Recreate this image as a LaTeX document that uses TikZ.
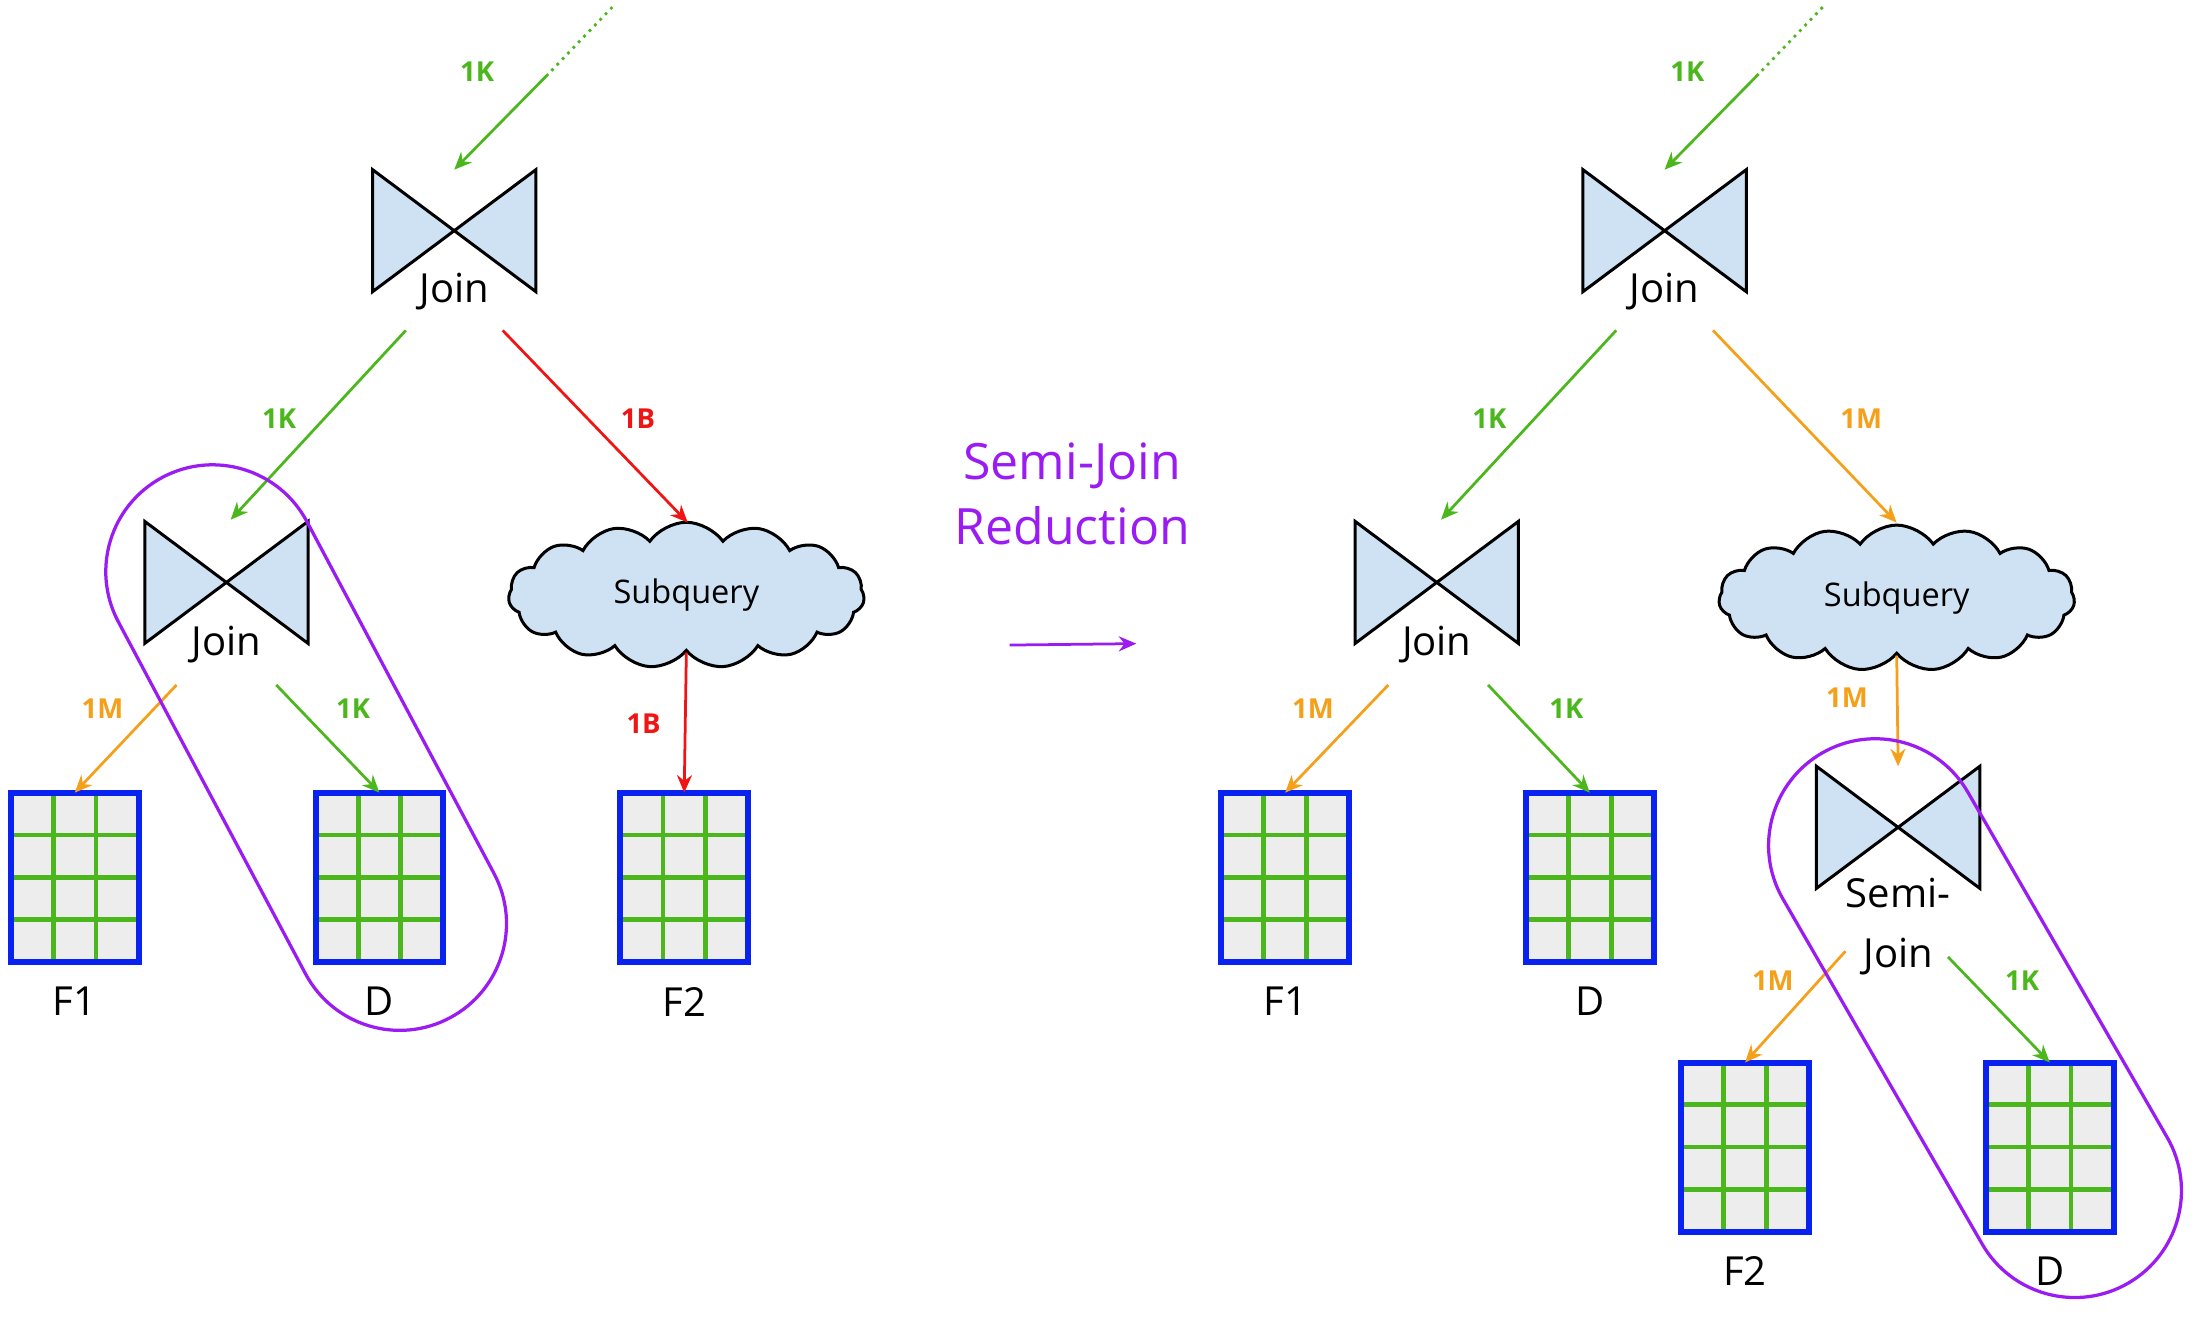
\documentclass[tikz,border=0pt]{standalone}
\usepackage{fontspec}
\setmainfont{Open Sans}
\usetikzlibrary{arrows.meta,shapes.symbols,calc}
\definecolor{gr}{HTML}{4CB71D}
\definecolor{og}{HTML}{F5A01A}
\definecolor{rd}{HTML}{F01515}
\definecolor{pu}{HTML}{9B1CF2}
\definecolor{lb}{HTML}{CFE2F3}
\definecolor{tb}{HTML}{0A22F0}
\newcommand\btnode[2]{\node[bt] (#1) at (#2) {};
 \filldraw[fill=lb,draw=black,line width=1.2pt,line join=miter] (#1.north west)--(#1.center)--(#1.south west)--cycle (#1.north east)--(#1.center)--(#1.south east)--cycle;}
\begin{document}
\begin{tikzpicture}[x=0.02cm,y=-0.02cm,
 bt/.style={minimum width=2.28cm,minimum height=1.7cm,inner sep=0},
 ar/.style={line width=1.1pt,-{Stealth[length=7pt,width=6pt]}},
 lab/.style={font=\fontsize{11}{13}\selectfont\bfseries},
 txt/.style={font=\fontsize{16}{19}\selectfont},
 cl/.style={cloud,cloud puffs=15,cloud puff arc=110,aspect=2.5,fill=lb,draw=black,line width=1.2pt,minimum width=5.0cm,minimum height=2.05cm,inner sep=0},
 capsule/.style={draw=pu,line width=1.3pt,rounded corners=1.5cm,minimum width=3.0cm,minimum height=8.6cm}
]
\useasboundingbox (0,0) rectangle (1545,927);
\newcommand\tab[3]{%
 \node[minimum width=1.78cm,minimum height=2.36cm,inner sep=0,fill=black!7] (#1) at (#2) {};
 \draw[gr,line width=1.9pt] ($(#1.north west)!0.3333!(#1.north east)$) -- ($(#1.south west)!0.3333!(#1.south east)$)
  ($(#1.north west)!0.6667!(#1.north east)$) -- ($(#1.south west)!0.6667!(#1.south east)$)
  ($(#1.north west)!0.25!(#1.south west)$) -- ($(#1.north east)!0.25!(#1.south east)$)
  ($(#1.north west)!0.5!(#1.south west)$) -- ($(#1.north east)!0.5!(#1.south east)$)
  ($(#1.north west)!0.75!(#1.south west)$) -- ($(#1.north east)!0.75!(#1.south east)$);
 \draw[tb,line width=2.4pt] (#1.north west) rectangle (#1.south east);
 \node[txt,anchor=center] (#1l) at ($(#1.south)+(0,28)$) {#3};}
% ---------- left ----------
\btnode{j1}{319,162}
\node[txt] (j1t) at (319,205) {Join};
\coordinate (d1a) at (430,5); \coordinate (d1b) at (385,52);
\draw[gr,line width=1.1pt,dotted] (d1a) -- (d1b);
\draw[gr,ar] (d1b) -- (j1.north);
\node[lab,gr] at (335,50) {1K};
\btnode{j2}{159,409}
\node[txt] (j2t) at (159,453) {Join};
\node[cl] (c1) at (482,418) {\fontsize{13}{15}\selectfont Subquery};
\coordinate (a1) at (285,232); \coordinate (a2) at (162,365);
\draw[gr,ar] (a1) -- (a2);
\node[lab,gr] at (196,294) {1K};
\coordinate (b1) at (353,232); \coordinate (b2) at (483,367);
\draw[rd,ar] (b1) -- (b2);
\node[lab,rd] at (448,294) {1B};
\tab{f1}{52.5,616}{F1}
\tab{d1}{266.5,616}{D}
\tab{f2}{480.5,616}{F2}
\coordinate (e1) at (124,481); \draw[og,ar] (e1) -- (f1.north);
\node[lab,og] at (72,498) {1M};
\coordinate (e2) at (194,481); \draw[gr,ar] (e2) -- (d1.north);
\node[lab,gr] at (248,498) {1K};
\draw[rd,ar] (c1.south) -- (f2.north);
\node[lab,rd] at (452,508) {1B};
\node[capsule,rotate=28] (cap1) at (215,525) {};
% ---------- middle ----------
\node[pu,font=\fontsize{20}{26}\selectfont,align=center] (sj) at (753,347) {Semi-Join\\Reduction};
\coordinate (m1) at (709,453); \coordinate (m2) at (798,452);
\draw[pu,ar] (m1) -- (m2);
% ---------- right ----------
\btnode{r1}{1169,162}
\node[txt] (r1t) at (1169,205) {Join};
\coordinate (d2a) at (1280,5); \coordinate (d2b) at (1235,52);
\draw[gr,line width=1.1pt,dotted] (d2a) -- (d2b);
\draw[gr,ar] (d2b) -- (r1.north);
\node[lab,gr] at (1185,50) {1K};
\btnode{r2}{1009,409}
\node[txt] (r2t) at (1009,453) {Join};
\node[cl] (c2) at (1332,420) {\fontsize{13}{15}\selectfont Subquery};
\coordinate (g1) at (1135,232); \coordinate (g2) at (1012,365);
\draw[gr,ar] (g1) -- (g2);
\node[lab,gr] at (1046,294) {1K};
\coordinate (h1) at (1203,232); \coordinate (h2) at (1332,367);
\draw[og,ar] (h1) -- (h2);
\node[lab,og] at (1307,294) {1M};
\tab{rf1}{902.5,616}{F1}
\tab{rd1}{1116.5,616}{D}
\coordinate (k1) at (975,481); \draw[og,ar] (k1) -- (rf1.north);
\node[lab,og] at (922,498) {1M};
\coordinate (k2) at (1045,481); \draw[gr,ar] (k2) -- (rd1.north);
\node[lab,gr] at (1100,498) {1K};
\btnode{s1}{1333,581}
\node[txt,align=center,font=\fontsize{16}{24}\selectfont] (s1t) at (1333,651) {Semi-\\Join};
\draw[og,ar] (c2.south) -- (s1.north);
\node[lab,og] at (1297,490) {1M};
\tab{rf2}{1225.5,805.5}{F2}
\tab{rd2}{1439.5,805.5}{D}
\coordinate (n1) at (1296,668); \draw[og,ar] (n1) -- (rf2.north);
\node[lab,og] at (1245,689) {1M};
\coordinate (n2) at (1368,672); \draw[gr,ar] (n2) -- (rd2.north);
\node[lab,gr] at (1420,689) {1K};
\node[capsule,rotate=30] (cap2) at (1387,715) {};
\end{tikzpicture}
\end{document}
